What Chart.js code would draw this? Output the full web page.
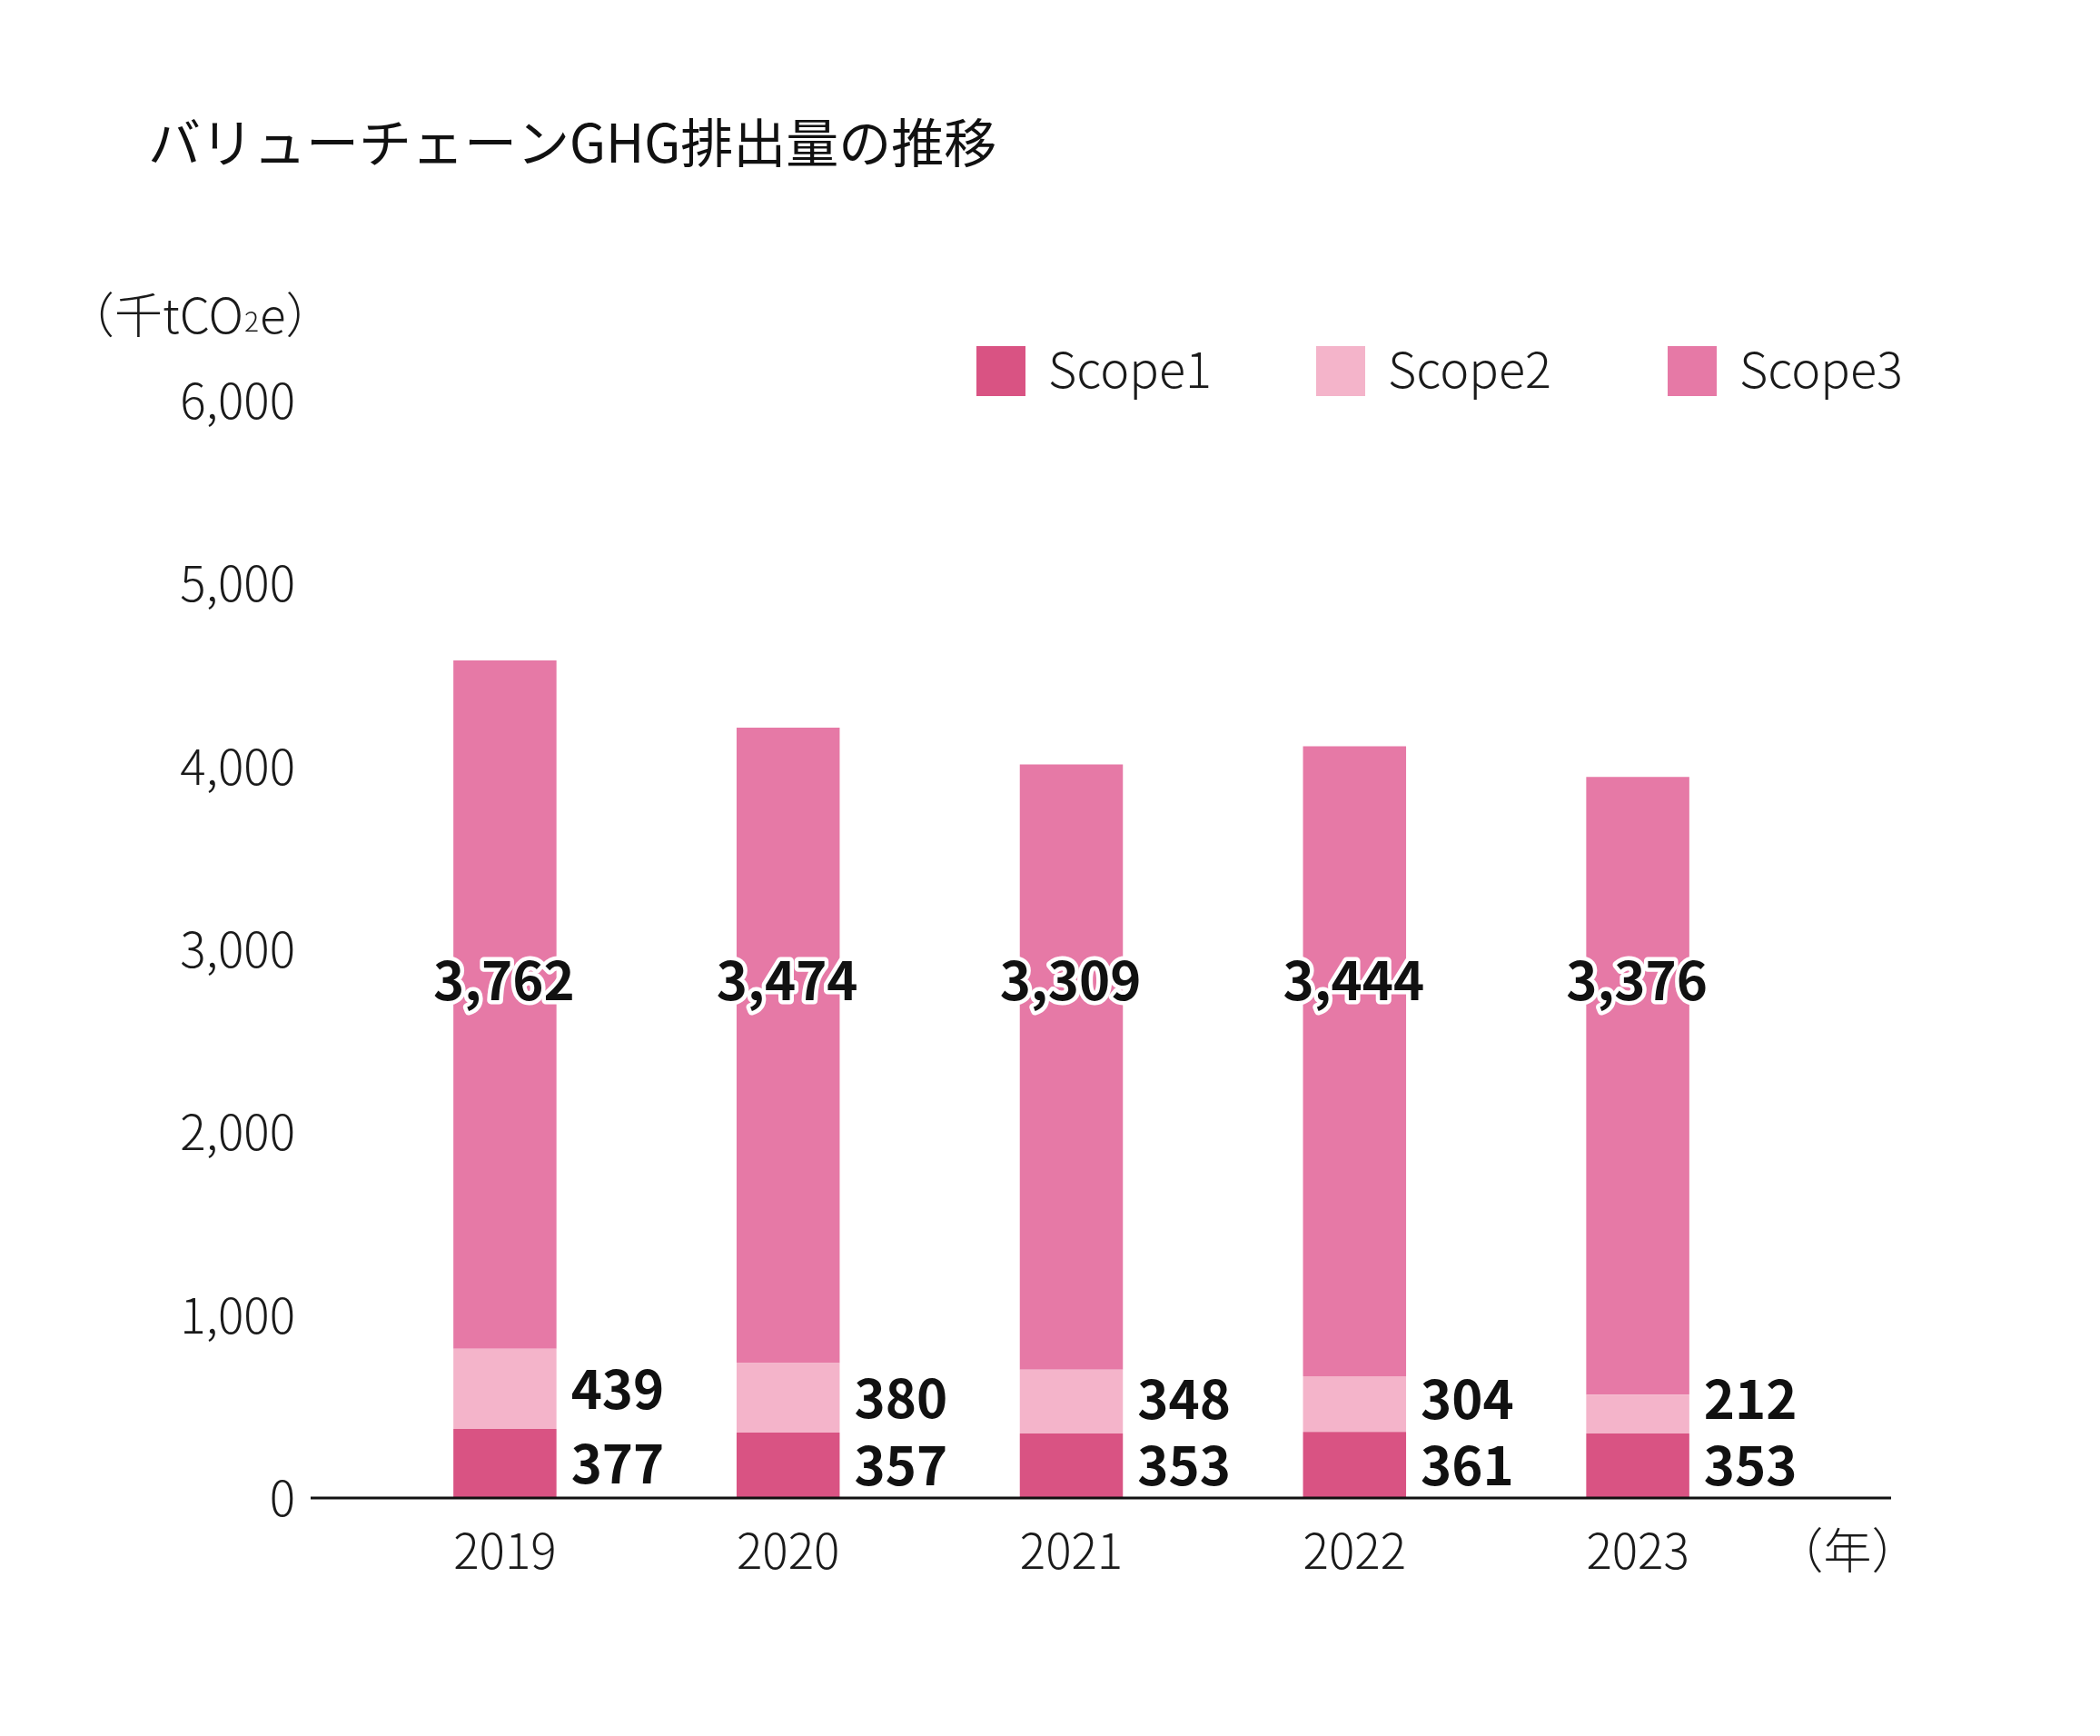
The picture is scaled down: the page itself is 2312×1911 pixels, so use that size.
<!DOCTYPE html>
<html lang="ja">
<head>
<meta charset="utf-8">
<title>バリューチェーンGHG排出量の推移</title>
<script src="https://cdn.jsdelivr.net/npm/chart.js@4.4.1/dist/chart.umd.min.js"></script>
<style>
  html, body { margin: 0; padding: 0; background: #fff; }
  #wrap { width: 2312px; height: 1911px; }
  canvas { display: block; }
</style>
</head>
<body>
<div id="wrap"><canvas id="ghgChart" width="2312" height="1911" style="width:2312px;height:1911px"></canvas></div>
<script>
// chart data (千tCO2e)
const years = ['2019', '2020', '2021', '2022', '2023'];
const scope1 = [377, 357, 353, 361, 353];
const scope2 = [439, 380, 348, 304, 212];
const scope3 = [3762, 3474, 3309, 3444, 3376];
const seriesNames = ['Scope1', 'Scope2', 'Scope3'];
const yTicks = [0, 1000, 2000, 3000, 4000, 5000, 6000];

const titleText = 'バリューチェーンGHG排出量の推移';
const yearUnit = '（年）';

const FONT = '"Noto Sans CJK JP", "Noto Sans", sans-serif';
const colors = ['#d95383', '#f4b4ca', '#e679a6'];
const SCOPE3_LABEL_VALUE = 2830;   // the big labels all sit at one height
const legendBoxX = [1075, 1449, 1836];

Chart.defaults.font.family = FONT;
Chart.defaults.color = '#1a1a1a';

/**
 * Draws the unit labels, baseline, legend and value labels
 */
const extrasPlugin = {
    id: 'extras',
    afterDatasetsDraw(chart) {
        const ctx = chart.ctx;
        const area = chart.chartArea;
        const yScale = chart.scales.y;
        const zeroY = yScale.getPixelForValue(0);

        ctx.save();

        // baseline
        ctx.strokeStyle = '#111';
        ctx.lineWidth = 3;
        ctx.beginPath();
        ctx.moveTo(area.left - 58, zeroY);
        ctx.lineTo(area.right + 123, zeroY);
        ctx.stroke();

        // small value labels right of the bars
        const meta1 = chart.getDatasetMeta(0);
        const meta2 = chart.getDatasetMeta(1);
        const meta3 = chart.getDatasetMeta(2);
        ctx.font = 'bold 58px ' + FONT;
        ctx.fillStyle = '#111';
        ctx.textBaseline = 'middle';
        ctx.textAlign = 'left';
        meta1.data.forEach((bar, i) => {
            const x = bar.x + bar.width / 2 + 16;
            const y1 = (bar.y + bar.base) / 2;
            const bar2 = meta2.data[i];
            const y2 = Math.min((bar2.y + bar2.base) / 2, y1 - 73);
            ctx.fillText(scope1[i].toLocaleString('en-US'), x, y1);
            ctx.fillText(scope2[i].toLocaleString('en-US'), x, y2);
        });

        // Scope3 labels with white outline
        ctx.textAlign = 'center';
        ctx.lineJoin = 'round';
        ctx.lineWidth = 9;
        ctx.strokeStyle = '#fff';
        const y3 = yScale.getPixelForValue(SCOPE3_LABEL_VALUE);
        meta3.data.forEach((bar, i) => {
            const txt = scope3[i].toLocaleString('en-US');
            ctx.strokeText(txt, bar.x - 1, y3);
            ctx.fillText(txt, bar.x - 1, y3);
        });

        // unit of y axis
        ctx.fillStyle = '#1a1a1a';
        ctx.textAlign = 'left';
        ctx.textBaseline = 'alphabetic';
        let ux = 73;
        const uy = 367;
        ctx.font = '300 53px ' + FONT;
        ctx.fillText('（千tCO', ux, uy);
        ux += ctx.measureText('（千tCO').width;
        ctx.font = '300 30px ' + FONT;
        ctx.fillText('2', ux + 1, uy - 2);
        ux += ctx.measureText('2').width + 2;
        ctx.font = '300 53px ' + FONT;
        ctx.fillText('e）', ux, uy);

        // unit of x axis
        ctx.font = '300 53px ' + FONT;
        ctx.textAlign = 'center';
        ctx.textBaseline = 'middle';
        ctx.fillText(yearUnit, area.right + 75, chart.scales.x.top + 58);

        // legend
        ctx.font = '300 54px ' + FONT;
        ctx.textAlign = 'left';
        const ly = 380;
        chart.data.datasets.forEach((ds, i) => {
            const lx = legendBoxX[i];
            ctx.fillStyle = ds.backgroundColor;
            ctx.fillRect(lx, ly + 1, 54, 55);
            ctx.fillStyle = '#1a1a1a';
            ctx.fillText(ds.label, lx + 79, ly + 26);
        });

        ctx.restore();
    }
};

function initializeChart() {
    const ctx = document.getElementById('ghgChart').getContext('2d');
    new Chart(ctx, {
        type: 'bar',
        data: {
            labels: years,
            datasets: [
                { label: seriesNames[0], data: scope1, backgroundColor: colors[0] },
                { label: seriesNames[1], data: scope2, backgroundColor: colors[1] },
                { label: seriesNames[2], data: scope3, backgroundColor: colors[2] }
            ]
        },
        options: {
            responsive: false,
            devicePixelRatio: 1,
            animation: false,
            layout: { padding: { left: 163, right: 353, top: 0, bottom: 162 } },
            datasets: {
                bar: { categoryPercentage: 1, barPercentage: 0.364, borderWidth: 0 }
            },
            plugins: {
                legend: { display: false },
                tooltip: { enabled: false },
                title: {
                    display: true,
                    text: titleText,
                    align: 'start',
                    color: '#111',
                    font: { size: 58, weight: '400', family: FONT },
                    padding: { top: 122, bottom: 249 }
                }
            },
            scales: {
                x: {
                    stacked: true,
                    grid: { display: false, drawTicks: false },
                    border: { display: false },
                    ticks: {
                        padding: 26,
                        color: '#1a1a1a',
                        font: { size: 53, weight: '300', family: FONT }
                    },
                    afterFit(scale) { scale.height = 100; }
                },
                y: {
                    stacked: true,
                    min: 0,
                    max: 6000,
                    grid: { display: false, drawTicks: false },
                    border: { display: false },
                    afterBuildTicks(scale) {
                        scale.ticks = yTicks.map(v => ({ value: v }));
                    },
                    ticks: {
                        padding: 75,
                        color: '#1a1a1a',
                        font: { size: 53, weight: '300', family: FONT },
                        callback: (v) => Number(v).toLocaleString('en-US')
                    },
                    afterFit(scale) { scale.width = 237; }
                }
            }
        },
        plugins: [extrasPlugin]
    });
}

if (document.readyState === 'loading') {
    document.addEventListener('DOMContentLoaded', initializeChart);
} else {
    initializeChart();
}
</script>
</body>
</html>
